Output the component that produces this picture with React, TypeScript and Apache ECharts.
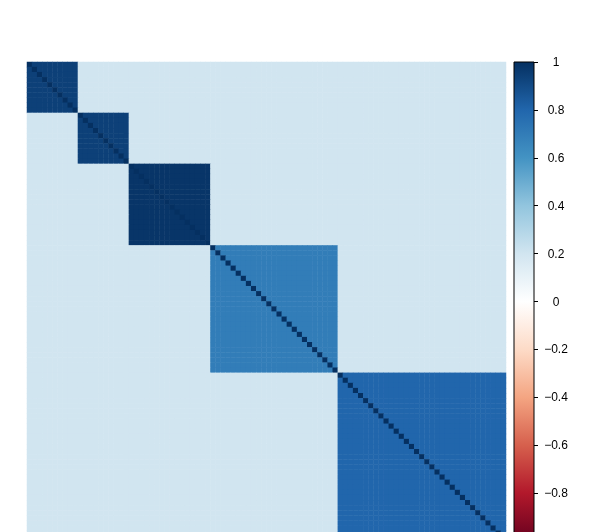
import React, { useEffect, useRef } from "react";
import * as echarts from "echarts";

const blockSizes = [10, 10, 16, 25, 33];
const blockCorr = [0.94, 0.94, 0.98, 0.7, 0.8];
const offBlockCorr = 0.2;
const diagCorr = 1;
const colorTicks = [-1, -0.8, -0.6, -0.4, -0.2, 0, 0.2, 0.4, 0.6, 0.8, 1];
const palette = ["#67001F", "#B2182B", "#D6604D", "#F4A582", "#FDDBC7", "#FFFFFF", "#D1E5F0", "#92C5DE", "#4393C3", "#2166AC", "#053061"];

export default function App() {
  const ref = useRef<HTMLDivElement>(null);
  useEffect(() => {
    if (!ref.current) return;
    const chart = echarts.init(ref.current, null, { renderer: "svg" });
    const blockOf: number[] = [];
    blockSizes.forEach((s, b) => { for (let i = 0; i < s; i++) blockOf.push(b); });
    const n = blockOf.length;
    const cats = Array.from({ length: n }, (_, i) => "V" + (i + 1));
    const data: number[][] = [];
    for (let i = 0; i < n; i++) {
      for (let j = 0; j < n; j++) {
        let v = offBlockCorr;
        if (i === j) v = diagCorr;
        else if (blockOf[i] === blockOf[j]) v = blockCorr[blockOf[i]];
        data.push([j, i, v]);
      }
    }
    const stops = palette.slice().reverse().map((c, k) => ({ offset: k / (palette.length - 1), color: c }));
    chart.setOption({
      animation: false,
      grid: [
        { left: 27, top: 62, width: 479, height: 479 },
        { left: 514, top: 62, width: 20, height: 479 },
      ],
      xAxis: [
        { type: "category", data: cats, gridIndex: 0, show: false },
        { type: "category", data: ["bar"], gridIndex: 1, show: false },
      ],
      yAxis: [
        { type: "category", data: cats, gridIndex: 0, show: false, inverse: true },
        {
          type: "value", gridIndex: 1, min: -1, max: 1, interval: 0.2, position: "right",
          axisLine: { show: false },
          axisTick: { show: true, length: 4, lineStyle: { color: "#000", width: 1 } },
          splitLine: { show: false },
          axisLabel: {
            show: true, margin: 22, align: "center", color: "#000", fontSize: 12,
            fontFamily: "Liberation Sans, Arial, sans-serif",
            formatter: (v: number) => {
              const r = Math.round(v * 10) / 10;
              if (r === 0) return "0";
              if (r === -1) return ""; // lies below the visible page
              const s = Math.abs(r) === 1 ? "1" : Math.abs(r).toFixed(1);
              return r < 0 ? "\u2212" + s : s;
            },
          },
        },
      ],
      visualMap: {
        show: false, min: -1, max: 1, seriesIndex: 0, dimension: 2,
        inRange: { color: palette },
      },
      series: [
        {
          type: "heatmap", xAxisIndex: 0, yAxisIndex: 0, data,
          itemStyle: { borderWidth: 0 },
          emphasis: { disabled: true },
        },
        {
          type: "custom", xAxisIndex: 1, yAxisIndex: 1,
          data: [[0, colorTicks[colorTicks.length - 1], colorTicks[0]]],
          encode: { x: 0, y: [1, 2] },
          renderItem: (params: any, api: any) => {
            const top = api.coord([api.value(0), api.value(1)]);
            const bot = api.coord([api.value(0), api.value(2)]);
            const w = api.size([1, 0])[0];
            return {
              type: "rect",
              shape: { x: top[0] - w / 2, y: top[1], width: w, height: bot[1] - top[1] },
              style: {
                fill: new echarts.graphic.LinearGradient(0, 0, 0, 1, stops),
                stroke: "#000", lineWidth: 1,
              },
            };
          },
        },
      ],
    });
    return () => chart.dispose();
  }, []);
  return (
    <div style={{ position: "fixed", left: 0, top: 0, width: 598, height: 532, overflow: "hidden" }}>
      <div ref={ref} style={{ width: 598, height: 570 }} />
    </div>
  );
}
